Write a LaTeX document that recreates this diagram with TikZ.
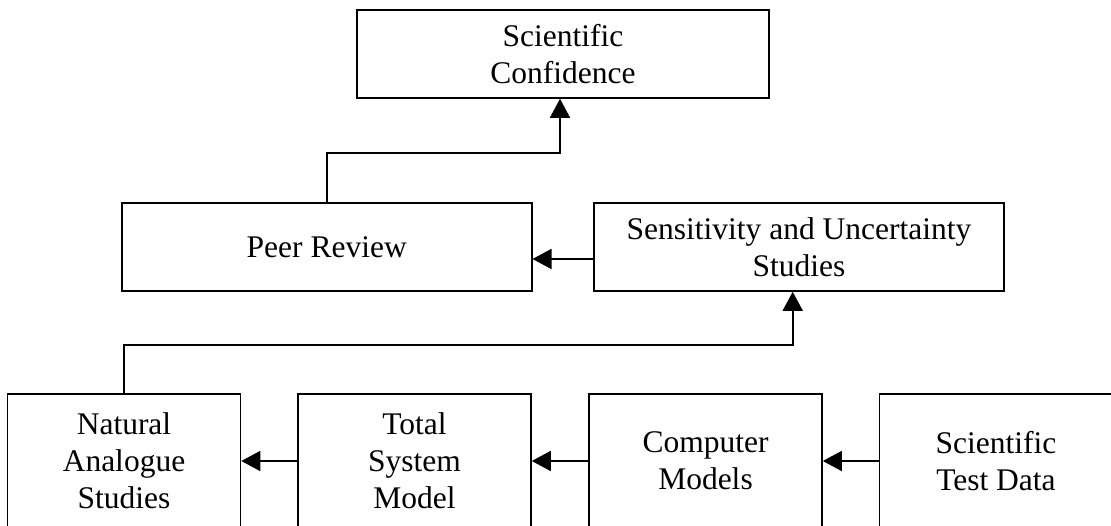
\documentclass[tikz,border=0pt]{standalone}
\usepackage{fontspec}
\setmainfont{Liberation Serif}
\usetikzlibrary{arrows.meta}

\tikzset{
  box/.style={draw=black, line width=1.6pt, rectangle, align=center,
    inner sep=0pt, font=\fontsize{31.5}{37}\selectfont},
  wide/.style={box, minimum width=410pt, minimum height=88pt},
  tall/.style={box, minimum width=233pt, minimum height=134pt},
  conn/.style={draw=black, line width=1.6pt},
  arr/.style={conn, -{Triangle[length=19pt,width=20pt]}}
}

\begin{document}
\begin{tikzpicture}[x=1pt,y=-1pt]
  \useasboundingbox (0,0) rectangle (1111,526);
  \clip (0,0) rectangle (1111,526);

  % top row
  \node[wide, minimum width=412pt] (sc) at (563,54) {Scientific\\Confidence};

  % middle row
  \node[wide] (pr) at (326.7,247) {Peer Review};
  \node[wide] (su) at (799,247) {Sensitivity and Uncertainty\\Studies};

  % bottom row
  \node[tall] (na) at (124,461) {Natural\\Analogue\\Studies};
  \node[tall] (ts) at (414.5,461) {Total\\System\\Model};
  \node[tall] (cm) at (705.5,461) {Computer\\Models};
  \node[tall] (td) at (996,461) {Scientific\\Test Data};

  % bends of the elbow connectors
  \coordinate (j1) at (560,153);
  \coordinate (j2) at (792.7,345);

  % connectors
  \draw[arr] (td.west) -- (cm.east);
  \draw[arr] (cm.west) -- (ts.east);
  \draw[arr] (ts.west) -- (na.east);
  \draw[arr] (na.north) |- (j2) -- (j2 |- su.south);
  \draw[arr] ([yshift=-12pt]su.west) -- ([yshift=-12pt]pr.east);
  \draw[arr] (pr.north) |- (j1) -- (j1 |- sc.south);
\end{tikzpicture}
\end{document}
